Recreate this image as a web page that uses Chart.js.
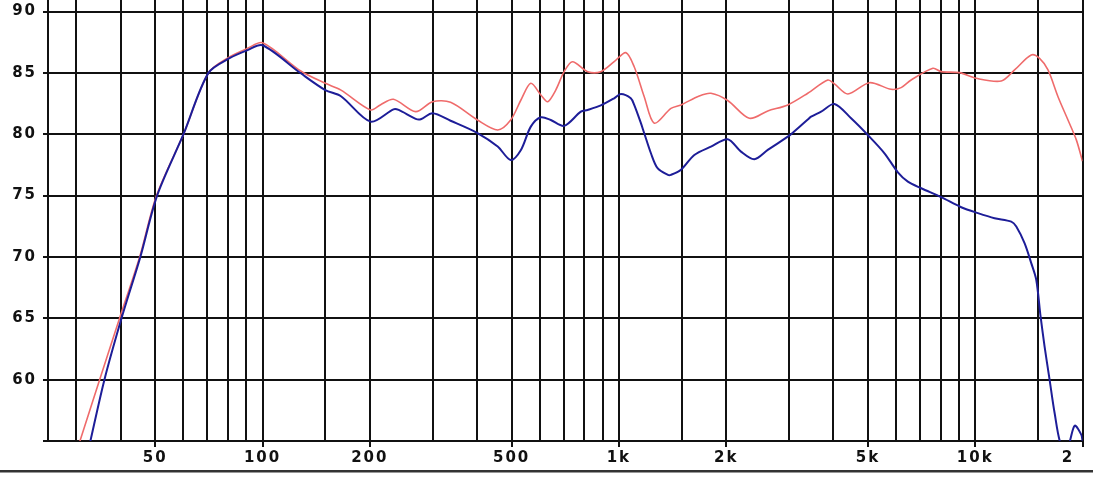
<!DOCTYPE html>
<html>
<head>
<meta charset="utf-8">
<script src="https://cdn.jsdelivr.net/npm/chart.js@4/dist/chart.umd.min.js"></script>
<style>
  body { margin: 0; background: #fff; }
  #wrap { width: 1093px; height: 500px; position: relative; }
</style>
</head>
<body>
<div id="wrap"><canvas id="fr"></canvas></div>
<script>
// blue curve, Hz / dB
var freqBlue = [32.7, 36, 40.2, 45.4, 50.6, 60, 70.5, 80.8, 90.8, 100, 128, 150, 166, 201, 233, 241, 269, 278, 300, 337, 401, 457, 497,
  531, 566, 604, 644, 702, 782, 817, 890, 970, 1013, 1080, 1104, 1153, 1178, 1230, 1284, 1373, 1400, 1494, 1628, 1813, 2020,
  2201, 2399, 2617, 2978, 3042, 3389, 3462, 3694, 4027, 4484, 5048, 5563, 6066, 6471, 7053, 8027, 9134, 10176, 11329, 12622,
  13038, 13753, 14362, 14834, 15253, 15655, 16168, 16702, 17442, 18209, 19012, 19856, 20000];
var dbBlue = [54.7, 60, 65, 70, 75, 80, 85, 86.2, 86.86, 87.25, 84.97, 83.6, 83.1, 81.03, 82.03, 81.98, 81.25, 81.22, 81.71, 81.1, 80.1, 79, 77.9,
  78.72, 80.62, 81.38, 81.16, 80.68, 81.84, 81.98, 82.35, 82.93, 83.28, 82.93, 82.39, 80.9, 80.08, 78.45, 77.23, 76.69, 76.69, 77.1, 78.31, 78.99, 79.59,
  78.58, 77.96, 78.72, 79.8, 80, 81.2, 81.43, 81.84, 82.47, 81.3, 79.8, 78.45, 76.9, 76.14, 75.6, 74.87, 74.05, 73.57, 73.16, 72.88,
  72.48, 71.12, 69.5, 68.14, 65.15, 62.7, 60, 57.28, 54.6, 54.6, 56.25, 55.5, 55];

// red curve
var freqRed = [30.5, 34.9, 39.7, 45.2, 50.4, 60, 70.5, 80.8, 90.8, 100, 128, 150, 166, 201, 214, 233, 269, 300, 337, 401, 457, 497,
  531, 566, 604, 631, 665, 702, 741, 817, 890, 970, 1046, 1104, 1178, 1257, 1400, 1494, 1681, 1813, 2020, 2323, 2617, 2978,
  3389, 3858, 4027, 4392, 5048, 5808, 6196, 6610, 7606, 8027, 9034, 10065, 11830, 12894, 14362, 15155, 16003, 17072, 18209,
  19219, 20000];
var dbRed = [54.7, 60, 65, 70, 75, 80, 85, 86.3, 87, 87.45, 85.15, 84.15, 83.6, 81.98, 82.39, 82.85, 81.84, 82.65, 82.6, 81.16, 80.35, 81.16,
  82.79, 84.15, 83.2, 82.65, 83.6, 85.1, 85.91, 85.1, 85.1, 85.91, 86.65, 85.5, 83.06, 80.9, 82.11, 82.39, 83.12, 83.34, 82.75, 81.3, 81.9, 82.39,
  83.34, 84.42, 84.1, 83.28, 84.2, 83.66, 83.8, 84.42, 85.37, 85.1, 85.02, 84.56, 84.34, 85.24, 86.46, 86.19, 85.24, 83.06, 81.16,
  79.54, 77.8];

// axes
var gridFreqs = [30, 40, 50, 60, 70, 80, 90, 100, 150, 200, 300, 400, 500, 600, 700, 800, 900, 1000, 1500, 2000, 3000, 4000,
  5000, 6000, 7000, 8000, 9000, 10000, 15000, 18200, 20000];
var labelFreqs = [50, 100, 200, 500, 1000, 2000, 5000, 10000, 18200];
var labelText = ['50', '100', '200', '500', '1k', '2k', '5k', '10k', '2'];
var markFreqs = [50, 100, 200, 500, 1000, 2000, 5000, 10000, 20000];
var labelOnly = [18200];
var yTicks = [55, 60, 65, 70, 75, 80, 85, 90];
var yLabels = ['', '60', '65', '70', '75', '80', '85', '90'];

function pts(fs, ds) {
  return fs.map(function (f, i) { return { x: f, y: ds[i] }; });
}

var ink = '#111';
var tickFont = { family: 'DejaVu Sans', size: 15, weight: 'bold' };

var frame = {
  id: 'frame',
  beforeDraw: function (chart) {
    chart.ctx.letterSpacing = '2px';
  },
  afterDraw: function (chart) {
    var c = chart.ctx;
    c.save();
    c.fillStyle = '#333';
    c.fillRect(0, 470, chart.width, 2.5);
    c.restore();
  }
};

new Chart(document.getElementById('fr'), {
  type: 'line',
  data: {
    datasets: [{
      data: pts(freqBlue, dbBlue),
      borderColor: '#1d1d98',
      borderWidth: 2,
      pointRadius: 0,
      tension: 0.3,
      clip: 0
    }, {
      data: pts(freqRed, dbRed),
      borderColor: '#ef6b6b',
      borderWidth: 1.6,
      pointRadius: 0,
      tension: 0.3,
      clip: 0
    }]
  },
  options: {
    responsive: true,
    maintainAspectRatio: false,
    animation: false,
    layout: { padding: { left: 0, right: 10.5, top: 0, bottom: 0 } },
    plugins: { legend: { display: false }, tooltip: { enabled: false } },
    scales: {
      x: {
        type: 'logarithmic',
        min: 25,
        max: 20000,
        bounds: 'data',
        afterBuildTicks: function (s) {
          s.ticks = gridFreqs.map(function (v) { return { value: v }; });
        },
        afterFit: function (s) {
          s.height = 59;
          s.paddingLeft = 0;
          s.paddingRight = 0;
        },
        ticks: {
          autoSkip: false,
          maxRotation: 0,
          padding: 2,
          color: ink,
          font: tickFont,
          callback: function (v) {
            var i = labelFreqs.indexOf(v);
            return i < 0 ? '' : labelText[i];
          }
        },
        grid: {
          lineWidth: 2,
          tickLength: 6,
          color: function (c) {
            return c.tick && labelOnly.indexOf(c.tick.value) >= 0 ? 'transparent' : ink;
          },
          tickColor: function (c) {
            return c.tick && markFreqs.indexOf(c.tick.value) >= 0 ? ink : 'transparent';
          }
        },
        border: { display: true, color: ink, width: 2 }
      },
      y: {
        min: 55,
        max: 90.94,
        bounds: 'data',
        afterBuildTicks: function (s) {
          s.ticks = yTicks.map(function (v) { return { value: v }; });
        },
        afterFit: function (s) {
          s.width = 48;
          s.paddingTop = 0;
          s.paddingBottom = 0;
        },
        ticks: {
          padding: 6,
          color: ink,
          font: tickFont,
          callback: function (v) {
            var i = yTicks.indexOf(v);
            return i < 0 ? '' : yLabels[i];
          }
        },
        grid: { lineWidth: 2, tickLength: 5, color: ink, tickColor: ink },
        border: { display: true, color: ink, width: 2 }
      }
    }
  },
  plugins: [frame]
});
</script>
</body>
</html>
